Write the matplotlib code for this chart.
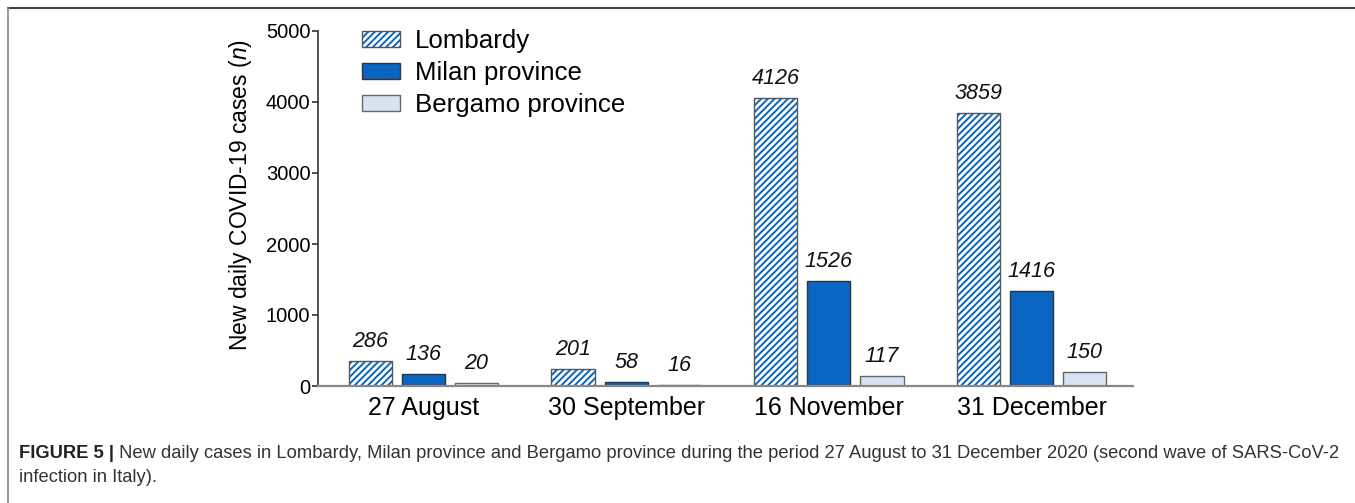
import matplotlib
matplotlib.use('Agg')
import matplotlib.pyplot as plt
from matplotlib.lines import Line2D
from matplotlib.legend_handler import HandlerTuple
import numpy as np

plt.rcParams['font.family'] = ['Liberation Sans', 'DejaVu Sans']
plt.rcParams['mathtext.fontset'] = 'custom'
plt.rcParams['mathtext.it'] = 'Liberation Sans:italic'
plt.rcParams['hatch.linewidth'] = 1.4

dates = ['27 August', '30 September', '16 November', '31 December']
series = ['Lombardy', 'Milan province', 'Bergamo province']

# bar heights as drawn in the figure
lombardy = [352, 239, 4056, 3845]
milan = [169, 56, 1479, 1338]
bergamo = [42, 14, 141, 197]

# numbers printed above the bars
lombardy_lbl = ['286', '201', '4126', '3859']
milan_lbl = ['136', '58', '1526', '1416']
bergamo_lbl = ['20', '16', '117', '150']

BLUE = '#0a66c2'
LIGHT = '#d8e3f2'
EDGE = '#555555'

fig = plt.figure(figsize=(13.55, 5.03), dpi=100)
ax = fig.add_axes([318/1355, 1-386/503, (1133-318)/1355, (386-31)/503])

x = np.arange(len(dates))
w = 0.213
off = 0.262

# lombardy: blue hatch, then a grey outline on top
hb = ax.bar(x - off, lombardy, w, color='white', edgecolor=BLUE, hatch='/////', linewidth=0)
ob = ax.bar(x - off, lombardy, w, fill=False, edgecolor=EDGE, linewidth=1.0)
mb = ax.bar(x, milan, w, color=BLUE, edgecolor='#333333', linewidth=1.0)
bb = ax.bar(x + off, bergamo, w, color=LIGHT, edgecolor='#666666', linewidth=1.0)

for xs, vals, lbls in [(x - off, lombardy, lombardy_lbl), (x, milan, milan_lbl),
                       (x + off, bergamo, bergamo_lbl)]:
    for xi, v, l in zip(xs, vals, lbls):
        ax.annotate(l, (xi, v), xytext=(0, 6.5), textcoords='offset points',
                    ha='center', va='bottom', fontsize=15.5, style='italic', color='#111111')

ax.set_xlim(-0.52, 3.5)
ax.set_ylim(0, 5000)
ax.set_yticks(range(0, 5001, 1000))
ax.set_xticks(x)
ax.set_xticklabels(dates, fontsize=18)
ax.tick_params(axis='x', length=0, pad=7)
ax.tick_params(axis='y', labelsize=14.5, length=4.5, width=1.2, color='#333333', pad=1)
ax.set_ylabel('New daily COVID-19 cases ($\\mathit{n}$)', fontsize=16.5)
ax.yaxis.set_label_coords((254-318)/815, (386-195)/355)

for s in ['top', 'right']:
    ax.spines[s].set_visible(False)
ax.spines['left'].set_color('#333333')
ax.spines['left'].set_linewidth(1.2)
ax.spines['bottom'].set_color('#888888')
ax.spines['bottom'].set_linewidth(1.6)

handles = [(hb[0], ob[0]), mb[0], bb[0]]
ax.legend(handles, series, loc='upper left', bbox_to_anchor=(44/815, 1.005),
          frameon=False, fontsize=18.6, handlelength=1.47, handleheight=0.6,
          labelspacing=0.31, handletextpad=0.58, borderpad=0, borderaxespad=0,
          handler_map={tuple: HandlerTuple(ndivide=1, pad=0)})

# frame lines of the figure panel
fig.add_artist(Line2D([8/1355, 1], [1-8/503, 1-8/503], color='#444444', lw=1.5))
fig.add_artist(Line2D([8/1355, 8/1355], [0, 1-8/503], color='#888888', lw=1.2))

cap = fig.text(19/1355, 1-453/503, 'FIGURE 5 |', fontsize=13.2, fontweight='bold',
               color='#222222', va='center')
ax.annotate(' New daily cases in Lombardy, Milan province and Bergamo province during '
            'the period 27 August to 31 December 2020 (second wave of SARS-CoV-2',
            xy=(1, 0), xycoords=cap, va='bottom', fontsize=13.2, color='#333333',
            annotation_clip=False)
fig.text(19/1355, 1-477/503, 'infection in Italy).', fontsize=13.2, color='#333333', va='center')

fig.savefig('out.png', dpi=100)
